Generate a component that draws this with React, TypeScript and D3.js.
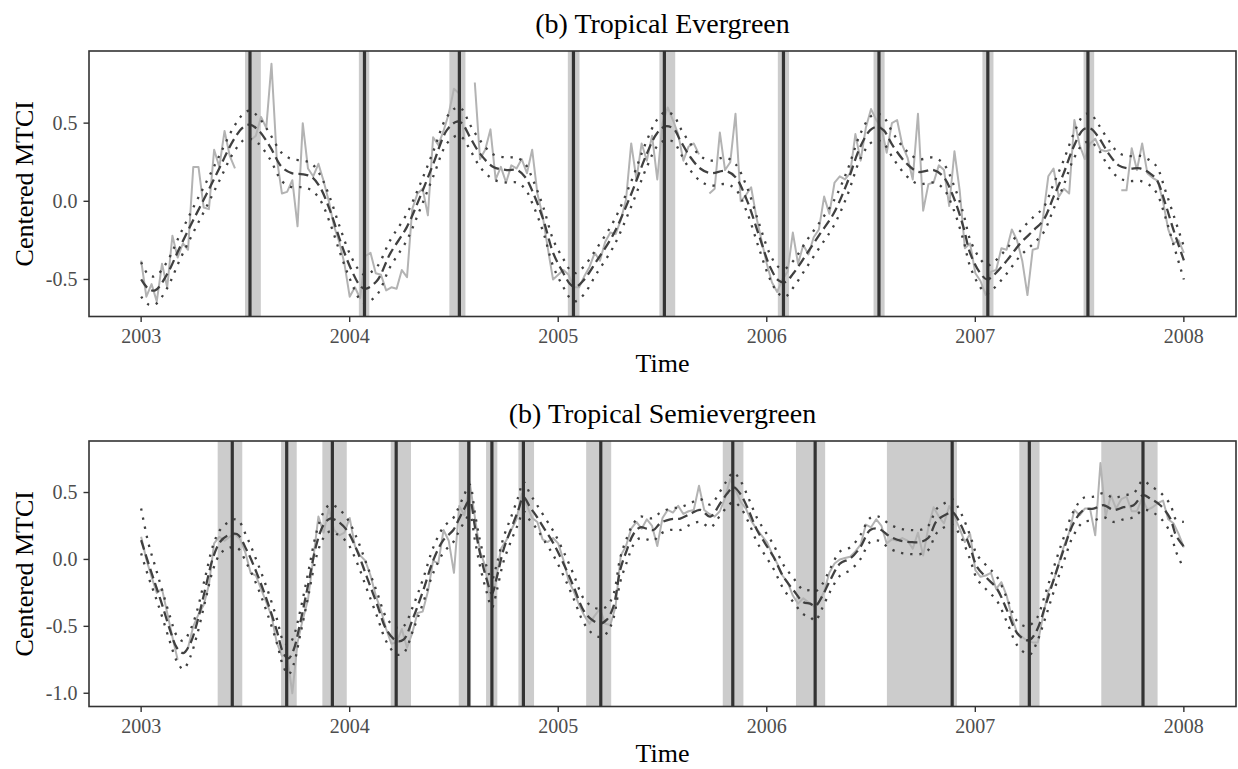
import React from 'react';
import * as d3 from 'd3';

// ---- data ---------------------------------------------------------------
const years = [2003, 2004, 2005, 2006, 2007, 2008];
const evgYTicks = [-0.5, 0, 0.5];
const semiYTicks = [-1, -0.5, 0, 0.5];

// raw MTCI, regular grid starting 2003.0, step 0.025 yr (null = missing)
const rawStart = 2003;
const rawStep = 0.025;

const evgRaw = [
  -0.38, -0.61, -0.53, -0.64, -0.40, -0.55, -0.22, -0.36, -0.27, -0.31,
  0.22, 0.22, -0.04, -0.05, 0.33, 0.22, 0.45, 0.29, 0.21, null,
  null, 0.39, 0.42, 0.54, 0.47, 0.88, 0.28, 0.05, 0.06, 0.135,
  -0.16, 0.50, 0.21, 0.16, 0.24, 0.13, 0.0, -0.16, -0.26, -0.40,
  -0.61, -0.55, -0.62, -0.35, -0.33, -0.46, -0.47, -0.57, -0.55, -0.56,
  -0.44, -0.485, -0.05, 0.05, 0.08, -0.09, 0.41, 0.36, 0.45, 0.56,
  0.72, 0.69, 0.39, null, 0.76, 0.27, 0.33, 0.46, 0.14, 0.22,
  0.12, 0.23, 0.21, 0.27, 0.18, 0.33, 0.05, -0.09, -0.30, -0.50,
  -0.47, -0.44, -0.47, -0.55, -0.55, -0.48, -0.42, -0.33, -0.38, -0.26,
  -0.20, -0.21, -0.12, 0.01, 0.37, 0.14, 0.37, 0.26, 0.42, 0.14,
  0.50, 0.60, 0.52, 0.43, 0.26, 0.35, 0.37, 0.30, null, 0.05,
  0.08, 0.44, 0.20, 0.25, 0.56, 0.0, 0.04, 0.09, -0.10, -0.25,
  -0.40, -0.52, -0.58, -0.50, -0.45, -0.20, -0.40, -0.28, -0.34, -0.23,
  -0.18, 0.03, -0.08, 0.12, 0.16, 0.14, 0.18, 0.43, 0.26, 0.47,
  0.59, 0.52, 0.47, 0.31, 0.50, 0.52, 0.36, 0.28, 0.14, 0.56,
  -0.06, 0.11, 0.12, 0.23, 0.20, -0.03, 0.32, 0.07, -0.30, -0.27,
  -0.46, -0.51, -0.60, -0.45, -0.44, -0.30, -0.31, -0.18, -0.25, -0.38,
  -0.60, -0.31, -0.30, -0.10, 0.16, 0.21, 0.03, 0.08, 0.05, 0.52,
  0.36, 0.27, 0.37, 0.40, 0.33, 0.32, 0.33, null, 0.07, 0.07,
  0.34, 0.20, 0.37, 0.18, 0.15, 0.13, 0.0, -0.18, -0.27, -0.25,
  -0.33,
];

const semiRaw = [
  0.17, 0.0, -0.13, -0.25, -0.22, -0.40, -0.58, -0.75, null, -0.66,
  -0.50, -0.41, -0.34, -0.19, 0.12, 0.17, 0.14, 0.17, 0.19, 0.15,
  0.05, -0.10, -0.12, -0.22, -0.32, -0.42, -0.62, -0.72, -0.72, -1.0,
  -0.62, -0.45, -0.30, 0.0, 0.32, 0.20, 0.38, 0.22, 0.18, 0.20,
  0.31, 0.10, 0.03, -0.01, -0.12, -0.27, -0.38, -0.52, -0.63, -0.62,
  -0.52, -0.66, -0.55, -0.40, -0.39, -0.24, -0.01, -0.03, 0.22, 0.14,
  -0.10, 0.40, 0.33, 0.58, 0.32, 0.06, -0.05, -0.32, -0.17, 0.08,
  0.14, 0.22, 0.30, 0.49, 0.40, 0.31, 0.28, 0.15, 0.13, 0.16,
  0.12, -0.005, -0.16, -0.24, -0.34, -0.42, -0.48, -0.42, -0.37, -0.48,
  -0.49, -0.35, 0.03, 0.10, 0.23, 0.28, 0.23, 0.30, 0.25, 0.10,
  0.31, 0.37, 0.35, 0.40, 0.34, 0.36, 0.37, 0.55, 0.37, 0.34,
  0.32, 0.36, 0.46, 0.60, 0.52, 0.43, 0.38, 0.29, 0.23, 0.18,
  0.13, 0.045, -0.03, -0.12, -0.17, -0.27, -0.33, -0.29, -0.32, -0.35,
  -0.32, -0.24, -0.10, -0.03, 0.0, 0.01, 0.02, 0.06, 0.11, 0.26,
  0.24, 0.30, 0.25, 0.12, 0.15, 0.14, 0.16, 0.14, 0.08, 0.20,
  0.03, 0.24, 0.39, 0.32, 0.27, 0.40, 0.32, 0.23, 0.13, 0.19,
  -0.08, -0.13, -0.12, -0.10, -0.22, -0.17, -0.27, -0.43, -0.55, -0.58,
  -0.61, -0.62, -0.62, -0.42, -0.24, -0.16, -0.03, 0.10, 0.20, 0.37,
  0.33, 0.38, 0.38, 0.18, 0.72, 0.32, 0.48, 0.38, 0.45, 0.47,
  0.36, 0.36, 0.46, 0.37, 0.39, 0.42, 0.44, 0.30, 0.27, 0.19,
  0.09,
];

// fitted model: [time, lower, fit, upper]
const evgFit = [
  [2003.000, -0.61, -0.50, -0.39], [2003.035, -0.66, -0.56, -0.47], [2003.067, -0.66, -0.57, -0.48],
  [2003.123, -0.56, -0.47, -0.39], [2003.187, -0.37, -0.29, -0.21], [2003.250, -0.20, -0.12, -0.04],
  [2003.315, -0.03, 0.05, 0.13], [2003.378, 0.14, 0.22, 0.30], [2003.442, 0.31, 0.39, 0.47],
  [2003.490, 0.39, 0.475, 0.56], [2003.522, 0.40, 0.49, 0.58], [2003.562, 0.37, 0.455, 0.54],
  [2003.618, 0.27, 0.35, 0.43], [2003.674, 0.13, 0.22, 0.31], [2003.722, 0.09, 0.18, 0.27],
  [2003.778, 0.09, 0.173, 0.26], [2003.818, 0.07, 0.156, 0.24], [2003.858, 0.01, 0.09, 0.17],
  [2003.906, -0.14, -0.06, 0.02], [2003.954, -0.33, -0.25, -0.17], [2004.002, -0.50, -0.42, -0.34],
  [2004.050, -0.63, -0.54, -0.45], [2004.074, -0.65, -0.56, -0.47], [2004.130, -0.60, -0.51, -0.42],
  [2004.194, -0.42, -0.335, -0.25], [2004.274, -0.25, -0.165, -0.08], [2004.338, -0.05, 0.03, 0.11],
  [2004.401, 0.16, 0.24, 0.32], [2004.466, 0.37, 0.455, 0.54], [2004.514, 0.42, 0.51, 0.60],
  [2004.538, 0.41, 0.50, 0.59], [2004.577, 0.33, 0.41, 0.49], [2004.625, 0.22, 0.305, 0.39],
  [2004.689, 0.14, 0.22, 0.30], [2004.754, 0.12, 0.20, 0.28], [2004.801, 0.12, 0.20, 0.28],
  [2004.841, 0.08, 0.156, 0.24], [2004.881, -0.03, 0.05, 0.13], [2004.929, -0.20, -0.12, -0.04],
  [2004.977, -0.42, -0.335, -0.25], [2005.025, -0.55, -0.46, -0.37], [2005.057, -0.62, -0.53, -0.44],
  [2005.081, -0.64, -0.55, -0.46], [2005.121, -0.60, -0.506, -0.42], [2005.185, -0.46, -0.38, -0.30],
  [2005.265, -0.29, -0.21, -0.13], [2005.345, -0.05, 0.03, 0.11], [2005.425, 0.22, 0.305, 0.39],
  [2005.473, 0.35, 0.434, 0.52], [2005.513, 0.39, 0.48, 0.57], [2005.553, 0.38, 0.465, 0.55],
  [2005.585, 0.31, 0.39, 0.47], [2005.633, 0.20, 0.284, 0.37], [2005.681, 0.13, 0.21, 0.29],
  [2005.729, 0.10, 0.18, 0.26], [2005.801, 0.11, 0.194, 0.28], [2005.849, 0.08, 0.156, 0.24],
  [2005.905, -0.07, 0.006, 0.09], [2005.960, -0.29, -0.207, -0.13], [2006.016, -0.50, -0.42, -0.34],
  [2006.056, -0.59, -0.506, -0.42], [2006.088, -0.61, -0.517, -0.43], [2006.128, -0.55, -0.46, -0.38],
  [2006.192, -0.42, -0.335, -0.25], [2006.256, -0.29, -0.207, -0.13], [2006.320, -0.16, -0.08, 0.0],
  [2006.384, 0.03, 0.113, 0.19], [2006.448, 0.27, 0.348, 0.43], [2006.496, 0.37, 0.455, 0.54],
  [2006.528, 0.39, 0.476, 0.56], [2006.560, 0.37, 0.455, 0.54], [2006.608, 0.27, 0.348, 0.43],
  [2006.672, 0.16, 0.24, 0.32], [2006.728, 0.11, 0.188, 0.27], [2006.800, 0.12, 0.20, 0.28],
  [2006.848, 0.08, 0.156, 0.24], [2006.895, -0.05, 0.028, 0.11], [2006.943, -0.25, -0.165, -0.08],
  [2006.976, -0.42, -0.335, -0.25], [2007.024, -0.55, -0.46, -0.37], [2007.056, -0.59, -0.50, -0.41],
  [2007.087, -0.56, -0.474, -0.39], [2007.152, -0.46, -0.378, -0.30], [2007.215, -0.35, -0.27, -0.19],
  [2007.279, -0.27, -0.186, -0.10], [2007.327, -0.20, -0.12, -0.04], [2007.375, -0.05, 0.028, 0.11],
  [2007.423, 0.10, 0.177, 0.26], [2007.471, 0.27, 0.348, 0.43], [2007.519, 0.37, 0.46, 0.55],
  [2007.551, 0.38, 0.466, 0.56], [2007.591, 0.33, 0.41, 0.49], [2007.639, 0.22, 0.305, 0.39],
  [2007.687, 0.15, 0.23, 0.31], [2007.735, 0.13, 0.21, 0.29], [2007.791, 0.13, 0.21, 0.29],
  [2007.839, 0.10, 0.177, 0.26], [2007.871, 0.05, 0.135, 0.22], [2007.911, -0.10, -0.015, 0.07],
  [2007.951, -0.28, -0.186, -0.09], [2008.000, -0.50, -0.378, -0.29],
];

const semiFit = [
  [2003.000, 0.045, 0.144, 0.38], [2003.035, -0.13, -0.03, 0.12], [2003.067, -0.27, -0.18, -0.05],
  [2003.099, -0.42, -0.33, -0.22], [2003.139, -0.62, -0.53, -0.43], [2003.171, -0.76, -0.66, -0.57],
  [2003.202, -0.82, -0.70, -0.61], [2003.235, -0.73, -0.63, -0.53], [2003.267, -0.57, -0.48, -0.39],
  [2003.306, -0.32, -0.23, -0.14], [2003.346, -0.07, 0.02, 0.11], [2003.378, 0.04, 0.13, 0.22],
  [2003.411, 0.08, 0.175, 0.27], [2003.459, 0.09, 0.19, 0.30], [2003.506, -0.03, 0.07, 0.17],
  [2003.554, -0.19, -0.10, -0.01], [2003.602, -0.39, -0.30, -0.21], [2003.650, -0.62, -0.53, -0.44],
  [2003.682, -0.80, -0.70, -0.61], [2003.706, -0.86, -0.74, -0.64], [2003.730, -0.79, -0.68, -0.58],
  [2003.762, -0.57, -0.48, -0.39], [2003.802, -0.27, -0.18, -0.09], [2003.842, 0.03, 0.12, 0.21],
  [2003.874, 0.16, 0.256, 0.35], [2003.906, 0.21, 0.305, 0.41], [2003.938, 0.19, 0.29, 0.39],
  [2003.986, 0.13, 0.22, 0.31], [2004.034, -0.02, 0.07, 0.16], [2004.082, -0.22, -0.13, -0.04],
  [2004.130, -0.42, -0.33, -0.24], [2004.178, -0.62, -0.53, -0.44], [2004.226, -0.71, -0.61, -0.51],
  [2004.258, -0.70, -0.60, -0.50], [2004.306, -0.52, -0.43, -0.34], [2004.353, -0.32, -0.23, -0.14],
  [2004.401, -0.10, -0.005, 0.09], [2004.449, 0.05, 0.144, 0.24], [2004.497, 0.13, 0.22, 0.31],
  [2004.514, 0.18, 0.27, 0.36], [2004.546, 0.27, 0.37, 0.47], [2004.575, 0.33, 0.44, 0.56],
  [2004.601, 0.14, 0.24, 0.34], [2004.625, -0.05, 0.045, 0.14], [2004.658, -0.25, -0.155, -0.06],
  [2004.682, -0.36, -0.255, -0.15], [2004.706, -0.23, -0.13, -0.03], [2004.737, -0.02, 0.07, 0.16],
  [2004.777, 0.15, 0.24, 0.33], [2004.809, 0.27, 0.37, 0.47], [2004.833, 0.36, 0.467, 0.58],
  [2004.865, 0.29, 0.39, 0.49], [2004.897, 0.23, 0.32, 0.41], [2004.929, 0.15, 0.24, 0.33],
  [2004.977, 0.03, 0.12, 0.21], [2005.025, -0.12, -0.03, 0.06], [2005.073, -0.29, -0.20, -0.11],
  [2005.121, -0.47, -0.38, -0.29], [2005.161, -0.55, -0.45, -0.35], [2005.201, -0.58, -0.48, -0.37],
  [2005.233, -0.55, -0.45, -0.35], [2005.265, -0.44, -0.35, -0.26], [2005.297, -0.17, -0.08, 0.01],
  [2005.329, -0.02, 0.07, 0.16], [2005.361, 0.11, 0.19, 0.27], [2005.393, 0.16, 0.24, 0.32],
  [2005.425, 0.15, 0.23, 0.31], [2005.457, 0.14, 0.22, 0.31], [2005.489, 0.19, 0.27, 0.35],
  [2005.537, 0.22, 0.30, 0.38], [2005.585, 0.22, 0.305, 0.39], [2005.633, 0.26, 0.34, 0.42],
  [2005.681, 0.28, 0.37, 0.45], [2005.729, 0.24, 0.32, 0.41], [2005.777, 0.33, 0.42, 0.51],
  [2005.809, 0.39, 0.49, 0.59], [2005.840, 0.43, 0.54, 0.65], [2005.873, 0.39, 0.49, 0.59],
  [2005.912, 0.28, 0.37, 0.46], [2005.953, 0.13, 0.22, 0.31], [2005.992, 0.03, 0.12, 0.21],
  [2006.032, -0.07, 0.02, 0.11], [2006.080, -0.22, -0.13, -0.04], [2006.128, -0.32, -0.23, -0.14],
  [2006.176, -0.41, -0.32, -0.23], [2006.208, -0.43, -0.33, -0.23], [2006.232, -0.46, -0.35, -0.24],
  [2006.264, -0.37, -0.28, -0.19], [2006.304, -0.24, -0.155, -0.07], [2006.352, -0.12, -0.03, 0.06],
  [2006.400, -0.08, 0.007, 0.09], [2006.448, 0.0, 0.09, 0.18], [2006.496, 0.13, 0.22, 0.31],
  [2006.536, 0.14, 0.23, 0.32], [2006.592, 0.08, 0.17, 0.26], [2006.640, 0.05, 0.14, 0.23],
  [2006.688, 0.04, 0.13, 0.22], [2006.736, 0.04, 0.13, 0.22], [2006.774, 0.07, 0.16, 0.25],
  [2006.816, 0.20, 0.29, 0.38], [2006.864, 0.25, 0.34, 0.43], [2006.889, 0.26, 0.355, 0.45],
  [2006.927, 0.18, 0.27, 0.36], [2006.975, 0.0, 0.09, 0.18], [2007.008, -0.145, -0.055, 0.035],
  [2007.056, -0.23, -0.14, -0.05], [2007.104, -0.31, -0.22, -0.13], [2007.152, -0.47, -0.38, -0.29],
  [2007.200, -0.64, -0.55, -0.46], [2007.239, -0.70, -0.60, -0.50], [2007.263, -0.71, -0.60, -0.49],
  [2007.295, -0.62, -0.53, -0.44], [2007.335, -0.44, -0.35, -0.26], [2007.375, -0.245, -0.155, -0.065],
  [2007.423, -0.02, 0.07, 0.16], [2007.471, 0.18, 0.27, 0.36], [2007.519, 0.28, 0.37, 0.46],
  [2007.567, 0.29, 0.38, 0.47], [2007.615, 0.315, 0.405, 0.495], [2007.663, 0.28, 0.37, 0.46],
  [2007.711, 0.30, 0.39, 0.48], [2007.759, 0.315, 0.405, 0.495], [2007.804, 0.37, 0.48, 0.59],
  [2007.839, 0.36, 0.455, 0.55], [2007.887, 0.31, 0.405, 0.50], [2007.935, 0.20, 0.305, 0.41],
  [2007.962, 0.06, 0.18, 0.30], [2008.000, -0.07, 0.095, 0.28],
];

// breakpoints: [interval start, estimate, interval end]
const evgBreaks = [
  [2003.498, 2003.522, 2003.574], [2004.044, 2004.071, 2004.094], [2004.478, 2004.526, 2004.555],
  [2005.046, 2005.073, 2005.102], [2005.485, 2005.509, 2005.561], [2006.053, 2006.080, 2006.107],
  [2006.512, 2006.538, 2006.565], [2007.034, 2007.060, 2007.087], [2007.519, 2007.540, 2007.570],
];

const semiBreaks = [
  [2003.367, 2003.437, 2003.485], [2003.671, 2003.698, 2003.746], [2003.869, 2003.917, 2003.986],
  [2004.197, 2004.223, 2004.294], [2004.523, 2004.571, 2004.582], [2004.654, 2004.682, 2004.708],
  [2004.809, 2004.833, 2004.884], [2005.134, 2005.204, 2005.254], [2005.789, 2005.837, 2005.888],
  [2006.140, 2006.232, 2006.280], [2006.576, 2006.889, 2006.912], [2007.211, 2007.259, 2007.308],
  [2007.604, 2007.804, 2007.874],
];

// ---- layout -------------------------------------------------------------
const W = 1238;
const H = 769;
const left = 89;
const right = 1236;
const panelH = 265.5;
const serif = '"Liberation Serif", "Times New Roman", serif';

function Panel({ title, top, yDomain, yTicks, raw, fit, breaks }) {
  const x = d3.scaleLinear().domain([2002.75, 2008.25]).range([left, right]);
  const y = d3.scaleLinear().domain(yDomain).range([top + panelH, top]);
  const bottom = top + panelH;
  const cx = (left + right) / 2;

  const rawLine = d3.line()
    .defined(d => d[1] != null)
    .x(d => x(d[0]))
    .y(d => y(d[1]));
  const rawPts = raw.map((v, i) => [rawStart + i * rawStep, v]);

  const mk = (k) => d3.line()
    .x(d => x(d[0]))
    .y(d => y(d[k]))
    .curve(d3.curveCatmullRom.alpha(0.5))(fit);

  return (
    <g>
      <text x={cx} y={top - 18.5} textAnchor="middle" fontSize={28} fontFamily={serif} fill="#000">{title}</text>

      {breaks.map((b, i) => (
        <rect key={'s' + i} x={x(b[0])} y={top} width={x(b[2]) - x(b[0])} height={panelH} fill="#cccccc" />
      ))}

      <path d={rawLine(rawPts)} fill="none" stroke="#b3b3b3" strokeWidth={2} strokeLinejoin="round" />
      <path d={mk(1)} fill="none" stroke="#404040" strokeWidth={2.3} strokeDasharray="2.3,6.9" />
      <path d={mk(3)} fill="none" stroke="#404040" strokeWidth={2.3} strokeDasharray="2.3,6.9" />
      <path d={mk(2)} fill="none" stroke="#404040" strokeWidth={2.3} strokeDasharray="10,5" />

      {breaks.map((b, i) => (
        <line key={'b' + i} x1={x(b[1])} x2={x(b[1])} y1={top} y2={bottom} stroke="#333333" strokeWidth={3.2} />
      ))}

      <rect x={left} y={top} width={right - left} height={panelH} fill="none" stroke="#333333" strokeWidth={1.6} />

      {years.map(t => (
        <g key={'x' + t}>
          <line x1={x(t)} x2={x(t)} y1={bottom} y2={bottom + 5.5} stroke="#333333" strokeWidth={1.4} />
          <text x={x(t)} y={bottom + 26.6} textAnchor="middle" fontSize={20} fontFamily={serif} fill="#4d4d4d">{t}</text>
        </g>
      ))}
      {yTicks.map(v => (
        <g key={'y' + v}>
          <line x1={left - 5.5} x2={left} y1={y(v)} y2={y(v)} stroke="#333333" strokeWidth={1.4} />
          <text x={77.5} y={y(v) + 6.8} textAnchor="end" fontSize={20} fontFamily={serif} fill="#4d4d4d">{d3.format('.1f')(v).replace('−', '-')}</text>
        </g>
      ))}

      <text x={cx} y={bottom + 55.7} textAnchor="middle" fontSize={26} fontFamily={serif} fill="#000">Time</text>
      <text transform={`translate(33,${top + panelH / 2}) rotate(-90)`} textAnchor="middle" fontSize={26} fontFamily={serif} fill="#000">Centered MTCI</text>
    </g>
  );
}

export default function App() {
  return (
    <svg width={W} height={H} viewBox={`0 0 ${W} ${H}`} style={{ position: 'absolute', left: 0, top: 0, display: 'block', background: '#fff' }}>
      <rect x={0} y={0} width={W} height={H} fill="#fff" />
      <Panel title="(b) Tropical Evergreen" top={51} yDomain={[-0.737, 0.9615]} yTicks={evgYTicks} raw={evgRaw} fit={evgFit} breaks={evgBreaks} />
      <Panel title="(b) Tropical Semievergreen" top={441} yDomain={[-1.099, 0.885]} yTicks={semiYTicks} raw={semiRaw} fit={semiFit} breaks={semiBreaks} />
    </svg>
  );
}
